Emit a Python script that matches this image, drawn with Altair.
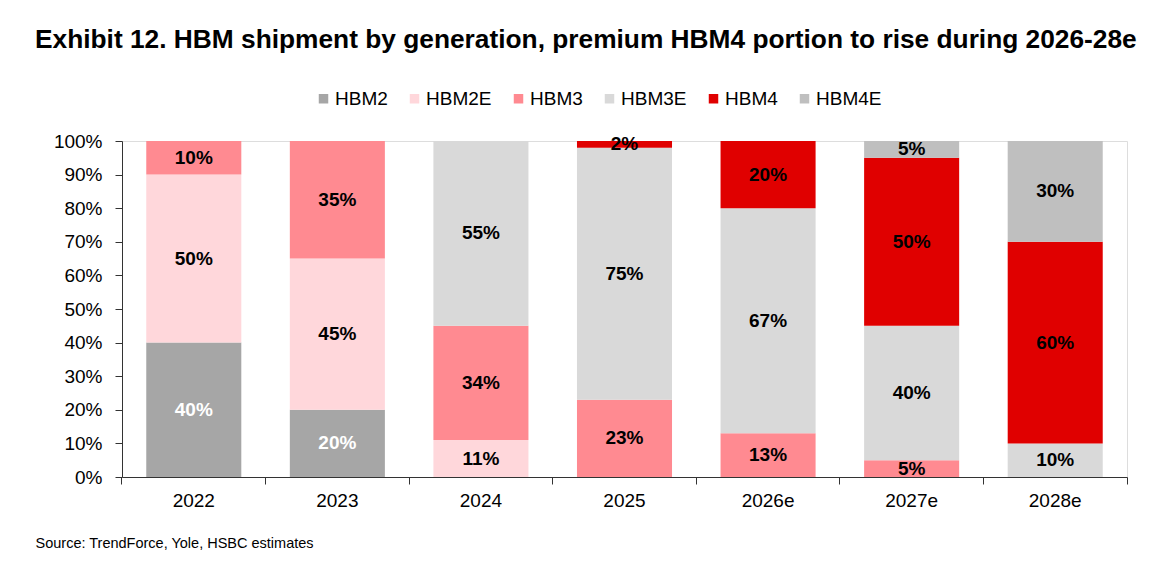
import altair as alt
import pandas as pd

years = ["2022", "2023", "2024", "2025", "2026e", "2027e", "2028e"]
series = ["HBM2", "HBM2E", "HBM3", "HBM3E", "HBM4", "HBM4E"]
hbm2 = [40, 20, 0, 0, 0, 0, 0]
hbm2e = [50, 45, 11, 0, 0, 0, 0]
hbm3 = [10, 35, 34, 23, 13, 5, 0]
hbm3e = [0, 0, 55, 75, 67, 40, 10]
hbm4 = [0, 0, 0, 2, 20, 50, 60]
hbm4e = [0, 0, 0, 0, 0, 5, 30]
colors = ["#A6A6A6", "#FFD7DB", "#FF8A91", "#D9D9D9", "#E00000", "#BFBFBF"]
y_ticks = [0, 10, 20, 30, 40, 50, 60, 70, 80, 90, 100]

title_text = "Exhibit 12. HBM shipment by generation, premium HBM4 portion to rise during 2026-28e"
source_text = "Source: TrendForce, Yole, HSBC estimates"

rows = []
for ord_i, (name, vals) in enumerate(zip(series, [hbm2, hbm2e, hbm3, hbm3e, hbm4, hbm4e])):
    for yr, v in zip(years, vals):
        if v > 0:
            rows.append({"year": yr, "gen": name, "ord": ord_i, "value": v})
df = pd.DataFrame(rows)

FONT = "Liberation Sans"

base = alt.Chart(df).transform_stack(
    stack="value", groupby=["year"], as_=["y0", "y1"], sort=[alt.SortField("ord", order="ascending")]
).transform_calculate(mid="(datum.y0 + datum.y1) / 2", lab="datum.value + '%'")

x_axis = alt.Axis(
    title=source_text,
    titleFont=FONT,
    titleFontSize=14.5,
    titleFontWeight="normal",
    titleColor="#000000",
    titleAnchor="start",
    titleAlign="left",
    titleBaseline="middle",
    titleX=-87,
    titleY=66,
    labelAngle=0,
    labelFont=FONT,
    labelFontSize=19,
    labelColor="#000000",
    labelPadding=7,
    bandPosition=1,
    tickExtra=True,
    tickSize=7,
    tickColor="#333333",
    domainColor="#333333",
    grid=False,
)
x_scale = alt.Scale(paddingInner=0, paddingOuter=0)

y_axis = alt.Axis(
    title=None,
    values=y_ticks,
    labelOverlap=False,
    labelExpr="datum.value + '%'",
    labelFont=FONT,
    labelFontSize=19,
    labelColor="#000000",
    labelPadding=13,
    tickSize=7,
    tickColor="#333333",
    domainColor="#333333",
    grid=False,
)
y_scale = alt.Scale(domain=[0, 100], nice=False)

bars = base.mark_bar(width=alt.RelativeBandSize(0.662)).encode(
    x=alt.X("year:N", sort=years, scale=x_scale, axis=x_axis),
    y=alt.Y("y0:Q", scale=y_scale, axis=y_axis),
    y2="y1:Q",
    color=alt.Color(
        "gen:N",
        sort=series,
        scale=alt.Scale(domain=series, range=colors),
        legend=alt.Legend(
            title=None,
            orient="none",
            direction="horizontal",
            legendX=192,
            legendY=-52,
            padding=0,
            symbolType="square",
            symbolSize=90,
            symbolStrokeWidth=0,
            labelFont=FONT,
            labelFontSize=19,
            labelColor="#000000",
            labelOffset=2,
            columnPadding=17,
        ),
    ),
)

labels = base.mark_text(font=FONT, fontSize=19, fontWeight="bold").encode(
    x=alt.X("year:N", sort=years, scale=x_scale, axis=x_axis),
    y=alt.Y("mid:Q", scale=y_scale, axis=y_axis),
    text="lab:N",
    color=alt.condition(alt.datum.gen == "HBM2", alt.value("#FFFFFF"), alt.value("#000000")),
)

chart = alt.layer(bars, labels).properties(
    width=1005,
    height=336,
    padding={"left": 114, "top": 133, "right": 34, "bottom": 81},
    autosize=alt.AutoSizeParams(type="none"),
    title=alt.TitleParams(
        title_text,
        anchor="start",
        frame="group",
        dx=-87,
        dy=-16,
        font=FONT,
        fontSize=26.3,
        fontWeight="bold",
        color="#000000",
        offset=20,
    ),
).configure_view(strokeWidth=0, stroke="transparent").configure(background="white")

chart.save("out.html", embed_options={"renderer": "svg", "actions": False})
